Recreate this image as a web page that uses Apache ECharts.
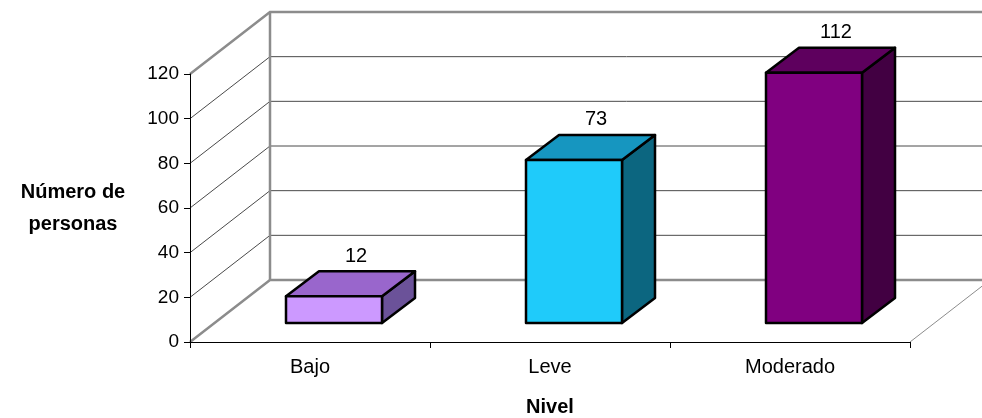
<!DOCTYPE html>
<html>
<head>
<meta charset="utf-8">
<script src="https://cdn.jsdelivr.net/npm/echarts@6/dist/echarts.min.js"></script>
<style>
  html, body { margin: 0; padding: 0; background: #fff; }
  #main { width: 982px; height: 418px; }
</style>
</head>
<body>
<div id="main"></div>
<script>
// datos
var categories = ['Bajo', 'Leve', 'Moderado'];
var values = [12, 73, 112];
var yTicks = [0, 20, 40, 60, 80, 100, 120];

// colores: frente, arriba, lado
var palette = [
  ['#CC99FF', '#9966CC', '#6B5299'],
  ['#1FCBFA', '#1696C0', '#0C6680'],
  ['#800080', '#5E005E', '#420042']
];

var FONT = 'Arial, "Liberation Sans", sans-serif';
var wallDx = 80, wallDy = -62;     // profundidad de las paredes
var barFront = [24, -19];          // cara frontal de la barra
var barDepth = [33, -25];          // profundidad de la barra

var chart = echarts.init(document.getElementById('main'));

function wallItem(params, api) {
  var cs = params.coordSys;
  var left = cs.x, right = cs.x + cs.width;
  var y0 = api.coord([0, 0])[1];
  var children = [];
  var gray = { stroke: '#8c8c8c', lineWidth: 2.5 };
  // rejilla
  yTicks.forEach(function (v) {
    if (v === 0 || v === yTicks[yTicks.length - 1]) return;
    var y = api.coord([0, v])[1];
    children.push({ type: 'polyline', shape: { points: [[left, y], [left + wallDx, y + wallDy], [right + wallDx + 20, y + wallDy]] },
      style: { stroke: '#4a4a4a', lineWidth: 1, fill: null } });
  });
  var yTop = api.coord([0, yTicks[yTicks.length - 1]])[1];
  // bordes de paredes
  children.push({ type: 'polyline', shape: { points: [[left, yTop], [left + wallDx, yTop + wallDy], [right + wallDx + 20, yTop + wallDy]] }, style: Object.assign({ fill: null }, gray) });
  children.push({ type: 'line', shape: { x1: left + wallDx, y1: yTop + wallDy, x2: left + wallDx, y2: y0 + wallDy }, style: gray });
  children.push({ type: 'polyline', shape: { points: [[left, y0], [left + wallDx, y0 + wallDy], [right + wallDx + 20, y0 + wallDy]] }, style: Object.assign({ fill: null }, gray) });
  children.push({ type: 'line', shape: { x1: right, y1: y0, x2: right + wallDx, y2: y0 + wallDy }, style: { stroke: '#8c8c8c', lineWidth: 1 } });
  return { type: 'group', children: children };
}

function barItem(params, api) {
  var idx = api.value(0), val = api.value(1);
  var base = api.coord([idx, 0]);
  var top = api.coord([idx, val]);
  var w = api.size([1, 0])[0] * 0.4;
  var x1 = base[0] - w / 2 + barFront[0], x2 = base[0] + w / 2 + barFront[0];
  var yb = base[1] + barFront[1], yt = top[1] + barFront[1];
  var dx = barDepth[0], dy = barDepth[1];
  var c = palette[idx];
  var edge = { stroke: '#000', lineWidth: 2.5, lineJoin: 'round' };
  return {
    type: 'group',
    children: [
      { type: 'polygon', shape: { points: [[x2, yt], [x2 + dx, yt + dy], [x2 + dx, yb + dy], [x2, yb]] }, style: Object.assign({ fill: c[2] }, edge) },
      { type: 'polygon', shape: { points: [[x1, yt], [x1 + dx, yt + dy], [x2 + dx, yt + dy], [x2, yt]] }, style: Object.assign({ fill: c[1] }, edge) },
      { type: 'rect', shape: { x: x1, y: yt, width: x2 - x1, height: yb - yt }, style: Object.assign({ fill: c[0] }, edge) },
      { type: 'text', x: base[0] + barFront[0] + 22, y: yt + dy - 15,
        style: { text: String(val), font: '20px ' + FONT, fill: '#000', align: 'center', verticalAlign: 'middle' } }
    ]
  };
}

chart.setOption({
  animation: false,
  backgroundColor: '#fff',
  grid: { left: 190, right: 72, top: 74, bottom: 76, containLabel: false, outerBoundsMode: 'none' },
  xAxis: {
    type: 'category',
    data: categories,
    name: 'Nivel',
    nameLocation: 'middle',
    nameGap: 55,
    nameTextStyle: { fontFamily: FONT, fontSize: 20, fontWeight: 'bold', color: '#000' },
    axisLine: { lineStyle: { color: '#000', width: 1 } },
    axisTick: { show: true, length: 6, lineStyle: { color: '#000' } },
    axisLabel: { fontFamily: FONT, fontSize: 20, color: '#000', margin: 15 },
    splitLine: { show: false },
    z: 5
  },
  yAxis: {
    type: 'value',
    min: 0,
    max: 120,
    interval: 20,
    name: 'Número de\npersonas',
    nameLocation: 'middle',
    nameRotate: 0,
    nameGap: 117,
    nameTextStyle: { fontFamily: FONT, fontSize: 20, fontWeight: 'bold', color: '#000', lineHeight: 32, align: 'center' },
    axisLine: { show: true, lineStyle: { color: '#000', width: 1 } },
    axisTick: { show: true, length: 6, lineStyle: { color: '#000' } },
    axisLabel: { fontFamily: FONT, fontSize: 19, color: '#000', margin: 11 },
    splitLine: { show: false },
    z: 5
  },
  series: [
    { type: 'custom', renderItem: wallItem, data: [[0, 0]], clip: false, z: 1, silent: true },
    { type: 'custom', renderItem: barItem, clip: false, z: 3,
      data: values.map(function (v, i) { return [i, v]; }) }
  ]
});
</script>
</body>
</html>
